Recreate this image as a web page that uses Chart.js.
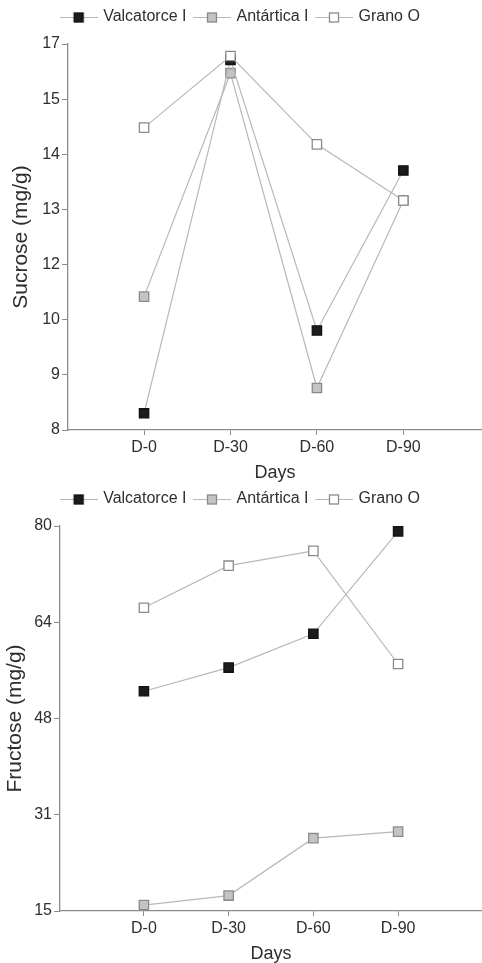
<!DOCTYPE html>
<html>
<head>
<meta charset="utf-8">
<script src="https://cdn.jsdelivr.net/npm/chart.js@4"></script>
<style>
    body { margin: 0; background: #fff; overflow: hidden; }
    .box { position: relative; width: 482px; }
</style>
</head>
<body>
<div class="box" style="height:482px"><canvas id="sucrose"></canvas></div>
<div class="box" style="height:481px"><canvas id="fructose"></canvas></div>
<script>
// données
const days = ["D-0", "D-30", "D-60", "D-90"];
const series = ["Valcatorce I", "Antártica I", "Grano O"];

const sucroseValcatorce = [8.39, 16.63, 10.32, 14.05];
const sucroseAntartica = [11.11, 16.32, 8.98, 13.35];
const sucroseGrano = [15.05, 16.72, 14.66, 13.35];
const sucroseTicks = [8, 9, 10, 12, 13, 14, 15, 17];

const fructoseValcatorce = [52.1, 56.1, 61.8, 79.1];
const fructoseAntartica = [16.0, 17.6, 27.3, 28.4];
const fructoseGrano = [66.2, 73.3, 75.8, 56.7];
const fructoseTicks = [15, 31, 48, 64, 80];

const textColor = '#2e2e2e';
const axisColor = '#8c8c8c';
const lineColor = '#b8b8b8';
const fills = ['#1c1c1c', '#c4c4c4', '#ffffff'];
const borders = ['#111', '#8a8a8a', '#8a8a8a'];
const font = "'Liberation Sans', Arial, sans-serif";

// petite icone de légende: trait + carré
function legendIcon(i) {
    const c = document.createElement('canvas');
    c.width = 38;
    c.height = 14;
    const g = c.getContext('2d');
    g.strokeStyle = lineColor;
    g.lineWidth = 1.2;
    g.beginPath();
    g.moveTo(0, 7.5);
    g.lineTo(38, 7.5);
    g.stroke();
    g.fillStyle = fills[i];
    g.fillRect(14.5, 3, 9, 9);
    g.strokeStyle = borders[i];
    g.lineWidth = 1.3;
    g.strokeRect(14.5, 3, 9, 9);
    return c;
}

// ajoute de l'espace sous la légende
const legendGap = {
    id: 'legendGap',
    beforeInit(chart) {
        const fit = chart.legend.fit;
        chart.legend.fit = function () {
            fit.bind(chart.legend)();
            this.height += 9;
        };
    }
};

function makeChart(id, values, ticks, title, yAxisWidth, titleOffset, xMin, xMax) {
    const yMin = ticks[0];
    const yMax = ticks[ticks.length - 1];
    const order = [1, 2, 0]; // Grano O dessiné au dessus

    new Chart(document.getElementById(id), {
        type: 'line',
        data: {
            datasets: series.map((name, i) => ({
                label: name,
                data: values[i].map((v, j) => ({ x: j, y: v })),
                order: order[i],
                borderColor: lineColor,
                borderWidth: 1.2,
                pointStyle: 'rect',
                pointRadius: 6.6,
                pointHoverRadius: 6.6,
                pointBackgroundColor: fills[i],
                pointBorderColor: borders[i],
                pointBorderWidth: 1.3,
                tension: 0,
                clip: false,
            }))
        },
        options: {
            responsive: true,
            maintainAspectRatio: false,
            animation: false,
            layout: { autoPadding: false, padding: 0 },
            scales: {
                x: {
                    type: 'linear',
                    min: xMin,
                    max: xMax,
                    afterBuildTicks: (scale) => {
                        scale.ticks = days.map((d, i) => ({ value: i }));
                    },
                    afterFit: (scale) => { scale.height = 52; },
                    ticks: {
                        callback: (value) => days[value],
                        color: textColor,
                        font: { family: font, size: 16 },
                        padding: 3,
                        maxRotation: 0,
                    },
                    grid: {
                        drawOnChartArea: false,
                        color: axisColor,
                        tickLength: 5,
                    },
                    border: { color: axisColor, width: 1.3 },
                    title: {
                        display: true,
                        text: 'Days',
                        color: textColor,
                        font: { family: font, size: 18 },
                        padding: { top: 0, bottom: -2 },
                    },
                },
                y: {
                    min: yMin,
                    max: yMax,
                    afterBuildTicks: (scale) => {
                        const step = (yMax - yMin) / (ticks.length - 1);
                        scale.ticks = ticks.map((t, i) => ({ value: yMin + i * step }));
                    },
                    afterFit: (scale) => { scale.width = yAxisWidth; },
                    ticks: {
                        callback: (value, index) => ticks[index],
                        color: textColor,
                        font: { family: font, size: 16 },
                        padding: 2,
                    },
                    grid: {
                        drawOnChartArea: false,
                        color: axisColor,
                        tickLength: 6,
                    },
                    border: { color: axisColor, width: 1.3 },
                    title: {
                        display: true,
                        text: title,
                        color: textColor,
                        font: { family: font, size: 21 },
                        padding: { top: titleOffset, bottom: 0 },
                    },
                },
            },
            plugins: {
                legend: {
                    position: 'top',
                    labels: {
                        usePointStyle: true,
                        pointStyleWidth: 33,
                        padding: 9,
                        color: textColor,
                        font: { family: font, size: 16 },
                        sort: (a, b) => a.datasetIndex - b.datasetIndex,
                        generateLabels: (chart) => series.map((name, i) => ({
                            text: name,
                            datasetIndex: i,
                            pointStyle: legendIcon(i),
                            fontColor: textColor,
                            lineWidth: 0,
                        })),
                    },
                },
                tooltip: { enabled: false },
            },
        },
        plugins: [legendGap],
    });
}

makeChart('sucrose', [sucroseValcatorce, sucroseAntartica, sucroseGrano], sucroseTicks, 'Sucrose (mg/g)', 68, 9, -0.88, 3.91);
makeChart('fructose', [fructoseValcatorce, fructoseAntartica, fructoseGrano], fructoseTicks, 'Fructose (mg/g)', 60, 3, -0.99, 3.99);
</script>
</body>
</html>
